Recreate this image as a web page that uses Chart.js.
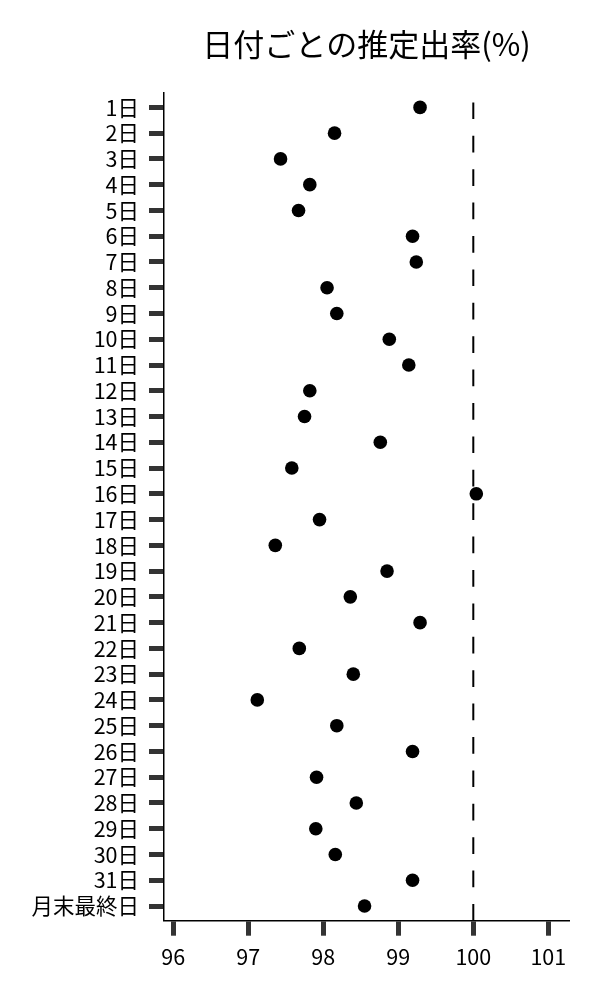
<!DOCTYPE html>
<html lang="ja">
<head>
<meta charset="utf-8">
<title>日付ごとの推定出率(%)</title>
<script src="https://cdn.jsdelivr.net/npm/chart.js@4"></script>
<style>
    html, body { margin: 0; padding: 0; background: #fff; }
    #wrap { width: 600px; height: 1000px; }
</style>
</head>
<body>
<div id="wrap"><canvas id="rateChart"></canvas></div>
<script>
// Categories (y axis, top to bottom)
const days = ['1日', '2日', '3日', '4日', '5日', '6日', '7日', '8日', '9日', '10日',
    '11日', '12日', '13日', '14日', '15日', '16日', '17日', '18日', '19日', '20日',
    '21日', '22日', '23日', '24日', '25日', '26日', '27日', '28日', '29日', '30日',
    '31日', '月末最終日'];

// Estimated rate per day (%)
const rates = [99.29, 98.15, 97.43, 97.82, 97.67, 99.19, 99.24, 98.05, 98.18, 98.88,
    99.14, 97.82, 97.75, 98.76, 97.58, 100.04, 97.95, 97.36, 98.85, 98.36,
    99.29, 97.68, 98.40, 97.12, 98.18, 99.19, 97.91, 98.44, 97.90, 98.16,
    99.19, 98.55];

// X tick labels
const xTicks = [96, 97, 98, 99, 100, 101];

// Reference line
const TARGET = 100;

const FONT = "'Noto Sans CJK JP', 'Noto Sans', sans-serif";

// Dashed vertical line at TARGET, dash pattern starts at the bottom
const targetLine = {
    id: 'targetLine',
    afterDatasetsDraw(chart) {
        const { ctx, chartArea, scales } = chart;
        const x = scales.x.getPixelForValue(TARGET);
        ctx.save();
        ctx.strokeStyle = '#000';
        ctx.lineWidth = 2;
        ctx.setLineDash([16.7, 16.7]);
        ctx.beginPath();
        ctx.moveTo(x, chartArea.bottom);
        ctx.lineTo(x, chartArea.top);
        ctx.stroke();
        ctx.restore();
    }
};

const points = rates.map((v, i) => ({ x: v, y: i }));

new Chart(document.getElementById('rateChart'), {
    type: 'scatter',
    data: {
        datasets: [{
            data: points,
            backgroundColor: '#000',
            borderWidth: 0,
            pointRadius: 6.8,
            pointHoverRadius: 6.8
        }]
    },
    options: {
        responsive: true,
        maintainAspectRatio: false,
        animation: false,
        layout: { padding: { left: 0, right: 31, top: 0, bottom: 0 } },
        plugins: {
            legend: { display: false },
            tooltip: { enabled: false },
            title: {
                display: true,
                text: '日付ごとの推定出率(%)',
                fullSize: false,
                color: '#000',
                font: { family: FONT, size: 31, weight: 'normal', lineHeight: 1.2 },
                padding: { top: 26, bottom: 29.5 }
            }
        },
        scales: {
            x: {
                type: 'linear',
                min: 95.876,
                max: 101.276,
                afterFit(scale) { scale.height = 79.3; },
                afterBuildTicks(scale) {
                    scale.ticks = xTicks.map(v => ({ value: v }));
                },
                ticks: {
                    stepSize: 1,
                    includeBounds: false,
                    color: '#000',
                    padding: 8,
                    font: { family: FONT, size: 21.5 }
                },
                grid: {
                    drawOnChartArea: false,
                    drawTicks: true,
                    tickLength: 15,
                    tickWidth: 5,
                    tickColor: '#333'
                },
                border: { display: true, color: '#000', width: 1.5 }
            },
            y: {
                type: 'linear',
                reverse: true,
                min: -0.57,
                max: days.length - 1 + 0.57,
                afterFit(scale) { scale.width = 164; },
                ticks: {
                    stepSize: 1,
                    includeBounds: false,
                    autoSkip: false,
                    color: '#000',
                    padding: 10,
                    font: { family: FONT, size: 21.5 },
                    callback: (value) => days[value] ?? ''
                },
                grid: {
                    drawOnChartArea: false,
                    drawTicks: true,
                    tickLength: 15,
                    tickWidth: 5,
                    tickColor: '#333'
                },
                border: { display: true, color: '#000', width: 1.5 }
            }
        }
    },
    plugins: [targetLine]
});
</script>
</body>
</html>
